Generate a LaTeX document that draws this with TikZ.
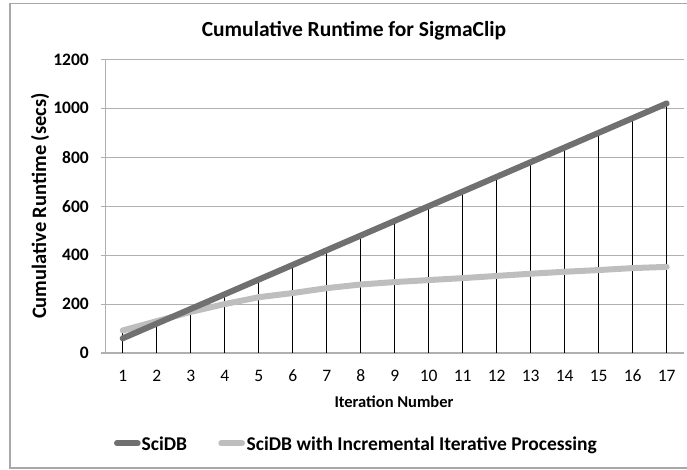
\documentclass[tikz,border=0pt]{standalone}
\usepackage{fontspec}
\setmainfont{Carlito}
\definecolor{scidbc}{HTML}{707070}
\definecolor{incrc}{HTML}{BEBEBE}
\definecolor{gridc}{HTML}{B0B0B0}
\definecolor{framec}{HTML}{A8A8A8}
\tikzset{
  gridline/.style={draw=gridc, line width=1.1pt},
  axisline/.style={draw=gridc, line width=1.3pt},
  dropline/.style={draw=black, line width=1.1pt},
  scidb/.style={draw=scidbc, line width=6pt, line cap=round, line join=round},
  incr/.style={draw=incrc, line width=6pt, line cap=round, line join=round},
  ticklab/.style={font=\fontsize{17.5}{20}\selectfont},
  yticklab/.style={font=\fontsize{17.5}{20}\selectfont\bfseries, anchor=east, inner sep=0pt},
  axtitle/.style={font=\fontsize{16.5}{19}\selectfont\bfseries},
  legtext/.style={font=\fontsize{19.5}{22}\selectfont\bfseries, anchor=base west, inner sep=0pt}
}
\begin{document}
\begin{tikzpicture}[x=1pt,y=1pt]
\useasboundingbox (0,0) rectangle (687,470);
% outer frame
\draw[draw=framec, line width=1.3pt] (692,466.7) -- (10,466.7) -- (10,2) -- (692,2);
% title
\node[font=\fontsize{21.5}{24}\selectfont\bfseries] (title) at (354,439) {Cumulative Runtime for SigmaClip};
% y-axis title
\node[font=\fontsize{20.5}{23}\selectfont\bfseries, rotate=90] (ytitle) at (40,264) {Cumulative Runtime (secs)};
% x-axis title
\node[axtitle] (xtitle) at (394,68.5) {Iteration Number};
\begin{scope}[shift={(88.7pt,117pt)}, x=34pt, y=0.24467pt]
  \foreach \v in {200,400,...,1200} {
    \draw[gridline] (0.5,\v) -- (17.5,\v);
  }
  \foreach \v in {0,200,...,1200} {
    \draw[gridline] (0.5,\v) -- ++(-5pt,0);
    \node[yticklab] (yl\v) at ([xshift=-16.7pt]0.5,\v) {\v};
  }
  \draw[axisline] (0.5,0) -- (0.5,1200);
  \draw[axisline] (0.5,0) -- (17.5,0);
  \foreach \i in {1,...,17} {
    \node[ticklab] (xl\i) at ([yshift=-23pt]\i,0) {\i};
  }
  % drop lines
  \foreach \i/\v in {1/92,2/130,3/180,4/240,5/300,6/360,7/420,8/480,9/540,10/600,11/660,12/720,13/780,14/840,15/900,16/960,17/1020} {
    \draw[dropline] (\i,0) -- (\i,\v);
  }
  % series
  \draw[incr] plot coordinates {(1,92) (2,130) (3,168) (4,200) (5,228) (6,245) (7,265) (8,280) (9,290) (10,298) (11,306) (12,315) (13,324) (14,332) (15,339) (16,347) (17,352)};
  \draw[scidb] plot coordinates {(1,60) (2,120) (3,180) (4,240) (5,300) (6,360) (7,420) (8,480) (9,540) (10,600) (11,660) (12,720) (13,780) (14,840) (15,900) (16,960) (17,1020)};
\end{scope}
% legend
\coordinate (l1a) at (117,26.7);
\coordinate (l1b) at (137.7,26.7);
\draw[scidb] (l1a) -- (l1b);
\node[legtext] (leg1) at (141.5,19) {SciDB};
\coordinate (l2a) at (221.3,26.7);
\coordinate (l2b) at (242,26.7);
\draw[incr] (l2a) -- (l2b);
\node[legtext] (leg2) at (246.5,19) {SciDB with Incremental Iterative Processing};
\end{tikzpicture}
\end{document}
